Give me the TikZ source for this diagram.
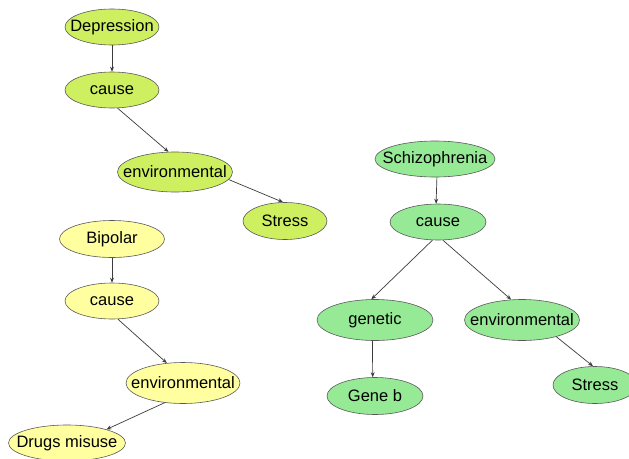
\documentclass[tikz,border=0pt]{standalone}
\usepackage{fontspec}
\setmainfont{Liberation Sans}
\usetikzlibrary{shapes.geometric,arrows.meta}
\definecolor{dgreen}{RGB}{206,240,96}
\definecolor{byellow}{RGB}{255,255,160}
\definecolor{sgreen}{RGB}{150,234,150}
\definecolor{edgecol}{RGB}{60,60,60}
\newcommand{\lbl}[1]{\makebox[0pt]{#1}}
\begin{document}
\begin{tikzpicture}[x=1pt,y=-1pt,
  nd/.style={ellipse,draw=black!65,line width=0.6pt,inner sep=0pt,
    font=\fontsize{16.5}{19}\selectfont,minimum height=36pt},
  dn/.style={nd,fill=dgreen},
  bn/.style={nd,fill=byellow},
  sn/.style={nd,fill=sgreen},
  conn/.style={draw=edgecol,line width=0.7pt,-{Stealth[length=5pt,width=4pt]}}]
\useasboundingbox[fill=white] (0,0) rectangle (629,458);
% Depression
\node[dn,minimum width=94pt] (dep) at (112,27) {\lbl{Depression}};
\node[dn,minimum width=94pt] (depc) at (112,90) {\lbl{cause}};
\node[dn,minimum width=115pt,minimum height=40pt] (depe) at (175,172) {\lbl{environmental}};
\node[dn,minimum width=84pt,minimum height=37pt] (deps) at (285,221) {\lbl{Stress}};
% Bipolar
\node[bn,minimum width=105pt,minimum height=37pt] (bip) at (112,239) {\lbl{Bipolar}};
\node[bn,minimum width=94pt] (bipc) at (112,301) {\lbl{cause}};
\node[bn,minimum width=114pt,minimum height=41pt] (bipe) at (183,383) {\lbl{environmental}};
\node[bn,minimum width=117pt] (bipd) at (67,443) {\lbl{Drugs misuse}};
% Schizophrenia
\node[sn,minimum width=120pt] (sch) at (435,159) {\lbl{Schizophrenia}};
\node[sn,minimum width=96pt] (schc) at (438,222) {\lbl{cause}};
\node[sn,minimum width=116pt,minimum height=41pt] (schg) at (375,320) {\lbl{genetic}};
\node[sn,minimum width=115pt,minimum height=41pt] (sche) at (522,320) {\lbl{environmental}};
\node[sn,minimum width=96pt,minimum height=37pt] (schb) at (375,396) {\lbl{Gene b}};
\node[sn,minimum width=84pt,minimum height=37pt] (schs) at (595,385) {\lbl{Stress}};
% connectors
\draw[conn] (dep) -- (depc);
\draw[conn] (depc.-73) -- (depe.108);
\draw[conn] (depe.-8) -- (deps.96);
\draw[conn] (bip) -- (bipc);
\draw[conn] (bipc.-72) -- (bipe.129);
\draw[conn] (bipe.-133) -- (bipd.19);
\draw[conn] (sch.-84) -- (schc.96);
\draw[conn] (schc.-107) -- (schg.100);
\draw[conn] (schc.-75) -- (sche.118);
\draw[conn] (schg.-97) -- (schb.97);
\draw[conn] (sche.-26) -- (schs.96);
\end{tikzpicture}
\end{document}
